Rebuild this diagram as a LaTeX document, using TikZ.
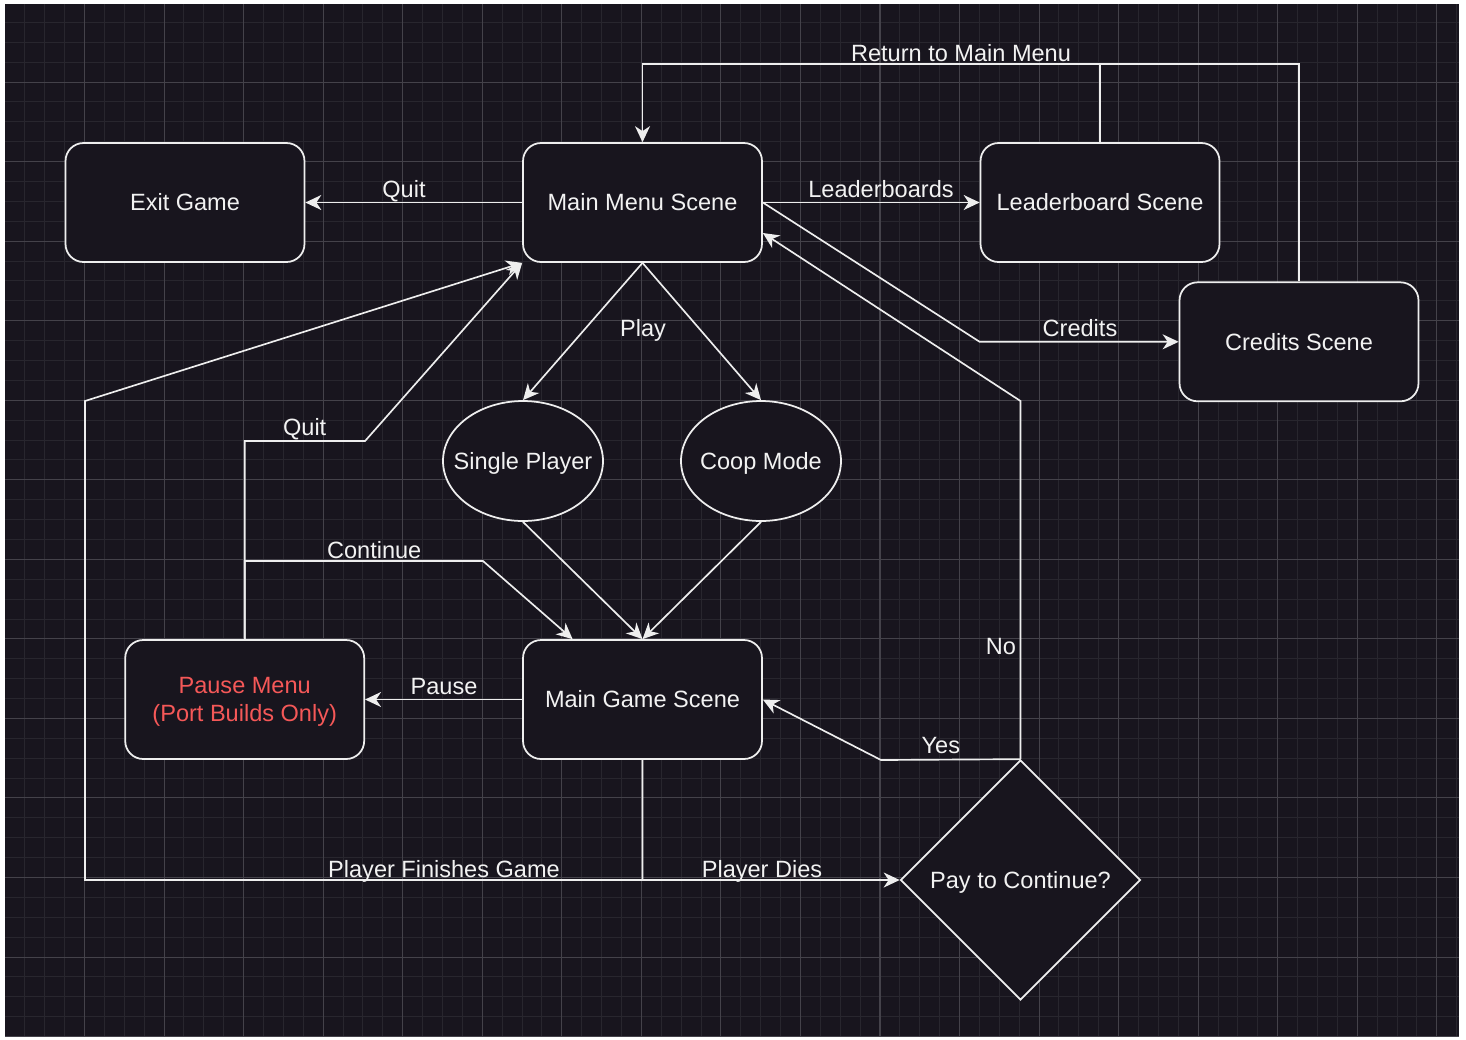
\documentclass[tikz,border=0pt]{standalone}
\usepackage{fontspec}
\setmainfont{Liberation Sans}
\usetikzlibrary{shapes.geometric,arrows.meta,calc}
\definecolor{bgc}{RGB}{24,21,30}
\definecolor{minorc}{RGB}{40,38,46}
\definecolor{majorc}{RGB}{68,66,74}
\definecolor{linec}{RGB}{238,238,238}
\definecolor{txtc}{RGB}{242,242,242}
\definecolor{redc}{RGB}{245,88,88}
\begin{document}
\begin{tikzpicture}[x=0.02cm,y=-0.02cm,
  fnt/.style={font=\fontsize{13.4}{15.9}\selectfont},
  box/.style={draw=linec, fill=bgc, line width=1pt, rounded corners=0.36cm,
    minimum width=4.78cm, minimum height=2.38cm, inner sep=0pt, fnt, text=txtc,
    text height=9.6pt, text depth=0pt},
  ell/.style={ellipse, draw=linec, fill=bgc, line width=1pt,
    minimum width=3.2cm, minimum height=2.4cm, inner sep=0pt},
  dia/.style={diamond, draw=linec, fill=bgc, line width=1pt,
    minimum width=4.8cm, minimum height=4.8cm, inner sep=0pt},
  intxt/.style={fnt, text=txtc, inner sep=0pt, text height=9.6pt, text depth=0pt},
  lbl/.style={fnt, text=txtc, inner sep=0pt, anchor=base},
  plain/.style={draw=linec, line width=0.95pt},
  conn/.style={plain, -{Stealth[length=0.32cm,width=0.3cm,inset=0.1cm]}},
  minorl/.style={draw=minorc, line width=0.55pt},
  majorl/.style={draw=majorc, line width=0.6pt}
]
\useasboundingbox (0,0) rectangle (1466,1039);
\fill[white] (0,0) rectangle (1466,1039);
\fill[bgc] (5,4) rectangle (1459,1037);
\begin{scope}
\clip (5,4) rectangle (1459,1037);
\foreach \k in {1,...,73} {\pgfmathsetmacro\xx{5+19.886*\k}\draw[minorl] (\xx,4) -- (\xx,1037);}
\foreach \k in {1,...,52} {\pgfmathsetmacro\yy{2.5+19.886*\k}\draw[minorl] (5,\yy) -- (1459,\yy);}
\foreach \k in {4,8,...,72} {\pgfmathsetmacro\xx{5+19.886*\k}\draw[majorl] (\xx,4) -- (\xx,1037);}
\foreach \k in {4,8,...,52} {\pgfmathsetmacro\yy{2.5+19.886*\k}\draw[majorl] (5,\yy) -- (1459,\yy);}
\end{scope}

% nodes
\node[box] (ex) at (185,202.5) {Exit Game};
\node[box] (mm) at (642.5,202.5) {Main Menu Scene};
\node[box] (ls) at (1100,202.5) {Leaderboard Scene};
\node[box] (cr) at (1299,341.8) {Credits Scene};
\node[ell, label={[intxt]center:Single Player}] (sp) at (523,461) {};
\node[ell, label={[intxt]center:Coop Mode}] (co) at (761,461) {};
\node[box] (mg) at (642.5,699.5) {Main Game Scene};
\node[box, label={[fnt, text=redc, align=center, inner sep=0pt, yshift=-0.05cm]center:Pause Menu\\(Port Builds Only)}] (pm) at (244.7,699.5) {};
\node[dia, label={[intxt]center:Pay to Continue?}] (pc) at (1020.5,880) {};
\coordinate (top) at (0,64);

% connectors
\draw[conn] (mm.west) -- (ex.east);
\draw[conn] (mm.east) -- (ls.west);
\draw[conn] (mm.east) -- (ls.west |- cr.west) -- (cr.west);
\draw[plain] (cr.north) |- (ls.north |- top);
\draw[conn] (ls.north) -- (ls.north |- top) -| (mm.north);
\draw[conn] (mm.south) -- (sp.north);
\draw[conn] (mm.south) -- (co.north);
\draw[conn] (sp.south) -- (mg.north);
\draw[conn] (co.south) -- (mg.north);
\draw[conn] (pm.north) -- (pm.north |- 0,561) -- (483,561) -- ([xshift=1.01cm]mg.north west);
\draw[conn] (pm.north) -- (pm.north |- 0,441) -- (pm.east |- 0,441) -- (mm.south west);
\draw[conn] (mg.west) -- (pm.east);
\draw[conn] (mg.south) |- (pc.west);
\draw[conn] (mg.south) -- (mg.south |- pc.west) -- (85,880) -- (85,401) -- (mm.south west);
\draw[conn] (pc.north) -- (881,760) -- (mg.east);
\draw[conn] (pc.north) -- (1020.5,401) -- ([yshift=-0.61cm]mm.east);

% labels
\node[lbl] (lq1) at (404,197.5) {Quit};
\node[lbl] (llb) at (881,197) {Leaderboards};
\node[lbl] (lrt) at (961,61.5) {Return to Main Menu};
\node[lbl] (lcr) at (1080,336) {Credits};
\node[lbl] (lpl) at (643,336.5) {Play};
\node[lbl] (lq2) at (304.7,435.5) {Quit};
\node[lbl] (lco) at (374.2,558.3) {Continue};
\node[lbl] (lpa) at (444,694) {Pause};
\node[lbl] (lpf) at (444,877.5) {Player Finishes Game};
\node[lbl] (lpd) at (762,877.5) {Player Dies};
\node[lbl] (lye) at (940.8,753.3) {Yes};
\node[lbl] (lno) at (1001,654) {No};
\end{tikzpicture}
\end{document}
